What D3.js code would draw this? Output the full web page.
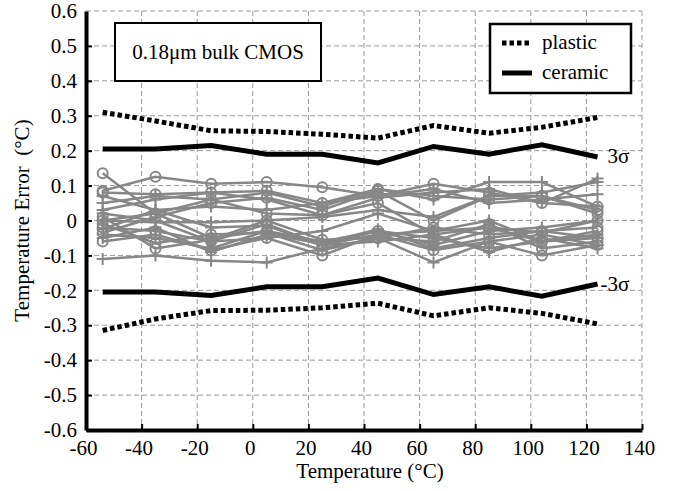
<!DOCTYPE html>
<html>
<head>
<meta charset="utf-8">
<script src="https://cdn.jsdelivr.net/npm/d3@7"></script>
<style>
  body { margin: 0; background: #fff; }
</style>
</head>
<body>
<svg id="chart"></svg>
<script>
// data
const temps = [-54, -35, -15, 5, 25, 45, 65, 85, 104, 124]

const plasticUpper = [0.31, 0.285, 0.257, 0.255, 0.247, 0.236, 0.272, 0.25, 0.267, 0.295]
const plasticLower = [-0.315, -0.282, -0.258, -0.257, -0.25, -0.237, -0.273, -0.25, -0.266, -0.296]
const ceramicUpper = [0.205, 0.205, 0.215, 0.19, 0.19, 0.165, 0.212, 0.19, 0.217, 0.182]
const ceramicLower = [-0.205, -0.205, -0.215, -0.19, -0.19, -0.165, -0.212, -0.19, -0.217, -0.182]

// chips drawn with circle markers
const circleSeries = [
    [0.135, 0.02, -0.05, -0.03, -0.07, -0.04, -0.03, -0.02, -0.06, -0.03],
    [0.085, 0.125, 0.105, 0.11, 0.095, 0.07, 0.105, 0.08, 0.05, 0.04],
    [0.08, 0.075, 0.08, 0.085, 0.05, 0.09, 0.07, 0.06, 0.07, 0.02],
    [0.0, 0.02, 0.06, 0.02, 0.015, 0.05, -0.04, -0.02, -0.035, 0.0],
    [-0.02, -0.03, -0.06, -0.01, -0.07, -0.03, -0.05, -0.08, -0.06, -0.05],
    [-0.06, -0.04, -0.085, -0.05, -0.1, -0.04, -0.085, -0.06, -0.1, -0.07],
    [0.01, -0.08, -0.055, 0.0, -0.055, -0.05, -0.02, -0.04, -0.03, -0.02],
    [-0.035, 0.01, 0.05, 0.065, 0.03, 0.085, 0.0, 0.07, 0.07, 0.03],
    [-0.01, -0.065, -0.04, -0.035, -0.085, -0.05, -0.06, -0.01, -0.08, -0.06]
]
// chips drawn with plus markers
const plusSeries = [
    [-0.11, -0.1, -0.115, -0.12, -0.08, -0.05, -0.12, -0.06, -0.04, -0.07],
    [0.05, 0.07, 0.06, 0.08, 0.04, 0.09, 0.06, 0.11, 0.11, 0.04],
    [0.03, 0.06, 0.08, 0.06, 0.015, 0.065, 0.08, 0.09, 0.05, 0.12],
    [0.0, -0.005, -0.005, 0.0, 0.01, 0.03, 0.01, 0.07, 0.08, 0.11],
    [-0.04, -0.05, -0.08, -0.03, -0.06, -0.03, -0.07, -0.03, -0.02, 0.0],
    [0.02, 0.0, -0.06, -0.05, -0.03, 0.02, -0.03, 0.0, -0.06, -0.04],
    [-0.05, -0.02, -0.09, -0.04, -0.065, -0.025, -0.08, -0.05, -0.03, -0.05],
    [0.07, 0.03, 0.04, 0.03, 0.05, 0.07, 0.09, 0.05, 0.06, 0.075],
    [-0.025, 0.03, -0.02, -0.015, -0.07, -0.06, -0.04, -0.09, -0.05, -0.08]
]

const xTicks = [-60, -40, -20, 0, 20, 40, 60, 80, 100, 120, 140]
const yTicks = [-0.6, -0.5, -0.4, -0.3, -0.2, -0.1, 0, 0.1, 0.2, 0.3, 0.4, 0.5, 0.6]

const xTitle = 'Temperature (°C)'
const yTitle = 'Temperature Error  (°C)'
const noteText = '0.18μm bulk CMOS'
const legendNames = ['plastic', 'ceramic']

// setting up container
    const width = 673
    const height = 491
    const plotLeft = 86, plotRight = 642, plotTop = 11, plotBottom = 430
    const serif = 'Times New Roman, Liberation Serif, DejaVu Serif, serif'
    const fontSize = 21
    const svg = d3.select('#chart')
        .attr('width', width)
        .attr('height', height)
        .attr('font-family', serif)

// scales
    const xScale = d3.scaleLinear().domain([-60, 140]).range([plotLeft, plotRight])
    const yScale = d3.scaleLinear().domain([-0.6, 0.6]).range([plotBottom, plotTop])

// grid
    const gridColor = '#9a9a9a'
    svg.append('g')
        .selectAll('line')
        .data(yTicks.filter(d => d > -0.6))
        .enter().append('line')
            .attr('x1', plotLeft).attr('x2', plotRight)
            .attr('y1', d => yScale(d)).attr('y2', d => yScale(d))
            .attr('stroke', gridColor).attr('stroke-width', 1)
            .attr('stroke-dasharray', '5,3')
    svg.append('g')
        .selectAll('line')
        .data(xTicks.filter(d => d > -60))
        .enter().append('line')
            .attr('x1', d => xScale(d)).attr('x2', d => xScale(d))
            .attr('y1', plotTop).attr('y2', plotBottom)
            .attr('stroke', gridColor).attr('stroke-width', 1)
            .attr('stroke-dasharray', '5,3')

// grey chip curves
    const grey = '#878787'
    const line = d3.line()
        .x((d, i) => xScale(temps[i]))
        .y(d => yScale(d))
    const chips = svg.append('g')
    circleSeries.concat(plusSeries).forEach(s => {
        chips.append('path')
            .attr('d', line(s))
            .attr('fill', 'none')
            .attr('stroke', grey)
            .attr('stroke-width', 2.5)
    })
    circleSeries.forEach(s => {
        chips.append('g').selectAll('circle')
            .data(s)
            .enter().append('circle')
                .attr('cx', (d, i) => xScale(temps[i]))
                .attr('cy', d => yScale(d))
                .attr('r', 5)
                .attr('fill', 'none')
                .attr('stroke', grey)
                .attr('stroke-width', 2)
    })
    plusSeries.forEach(s => {
        chips.append('g').selectAll('path')
            .data(s)
            .enter().append('path')
                .attr('d', (d, i) => {
                    const x = xScale(temps[i]), y = yScale(d)
                    return `M${x - 6},${y}H${x + 6}M${x},${y - 6}V${y + 6}`
                })
                .attr('stroke', grey)
                .attr('stroke-width', 2)
    })

// 3 sigma lines
    const bounds = [
        {values: plasticUpper, dash: '4.5,3'},
        {values: plasticLower, dash: '4.5,3'},
        {values: ceramicUpper, dash: null},
        {values: ceramicLower, dash: null}
    ]
    bounds.forEach(b => {
        svg.append('path')
            .attr('d', line(b.values))
            .attr('fill', 'none')
            .attr('stroke', '#000')
            .attr('stroke-width', 5)
            .attr('stroke-dasharray', b.dash)
    })
    svg.append('text')
        .attr('x', xScale(temps[9]) + 10)
        .attr('y', yScale(ceramicUpper[9]) + 6)
        .attr('font-size', fontSize)
        .text('3σ')
    svg.append('text')
        .attr('x', xScale(temps[9]) + 3)
        .attr('y', yScale(ceramicLower[9]) + 7)
        .attr('font-size', fontSize)
        .text('-3σ')

// axes
    const fmtY = d => d === 0 ? '0' : d.toFixed(1)
    const xAxis = d3.axisBottom(xScale)
        .tickValues(xTicks)
        .tickSizeInner(-6)
        .tickSizeOuter(0)
        .tickPadding(10)
        .tickFormat(d => String(d))
    const yAxis = d3.axisLeft(yScale)
        .tickValues(yTicks)
        .tickSizeInner(-6)
        .tickSizeOuter(0)
        .tickPadding(9)
        .tickFormat(fmtY)
    const gx = svg.append('g')
        .attr('transform', `translate(0, ${plotBottom})`)
        .call(xAxis)
    const gy = svg.append('g')
        .attr('transform', `translate(${plotLeft}, 0)`)
        .call(yAxis)
    ;[gx, gy].forEach(g => {
        g.attr('font-family', serif).attr('font-size', fontSize)
        g.select('.domain').attr('stroke', '#000').attr('stroke-width', 4)
        g.selectAll('.tick line').attr('stroke', '#000').attr('stroke-width', 2)
        g.selectAll('text').attr('fill', '#000')
    })
    gx.selectAll('.tick text').attr('dx', -3)
    gy.selectAll('.tick').filter(d => d === 0.6).select('line').remove()

// axis titles
    svg.append('text')
        .attr('x', 370)
        .attr('y', 478)
        .attr('text-anchor', 'middle')
        .attr('font-size', fontSize)
        .text(xTitle)
    svg.append('text')
        .attr('transform', `translate(29, ${(plotTop + plotBottom) / 2}) rotate(-90)`)
        .attr('text-anchor', 'middle')
        .attr('font-size', fontSize)
        .attr('xml:space', 'preserve')
        .style('white-space', 'pre')
        .text(yTitle)

// note box
    svg.append('rect')
        .attr('x', 115).attr('y', 23)
        .attr('width', 206).attr('height', 58)
        .attr('fill', '#fff')
        .attr('stroke', '#000').attr('stroke-width', 2)
    svg.append('text')
        .attr('x', 218).attr('y', 59)
        .attr('text-anchor', 'middle')
        .attr('font-size', fontSize)
        .text(noteText)

// legend
    svg.append('rect')
        .attr('x', 490).attr('y', 24)
        .attr('width', 141).attr('height', 69)
        .attr('fill', '#fff')
        .attr('stroke', '#000').attr('stroke-width', 2.5)
    legendNames.forEach((name, i) => {
        const y = 43 + i * 30
        svg.append('line')
            .attr('x1', 502).attr('x2', 532)
            .attr('y1', y).attr('y2', y)
            .attr('stroke', '#000').attr('stroke-width', 5)
            .attr('stroke-dasharray', i === 0 ? '4.5,3' : null)
        svg.append('text')
            .attr('x', 542).attr('y', y + 6)
            .attr('font-size', fontSize)
            .text(name)
    })
</script>
</body>
</html>
